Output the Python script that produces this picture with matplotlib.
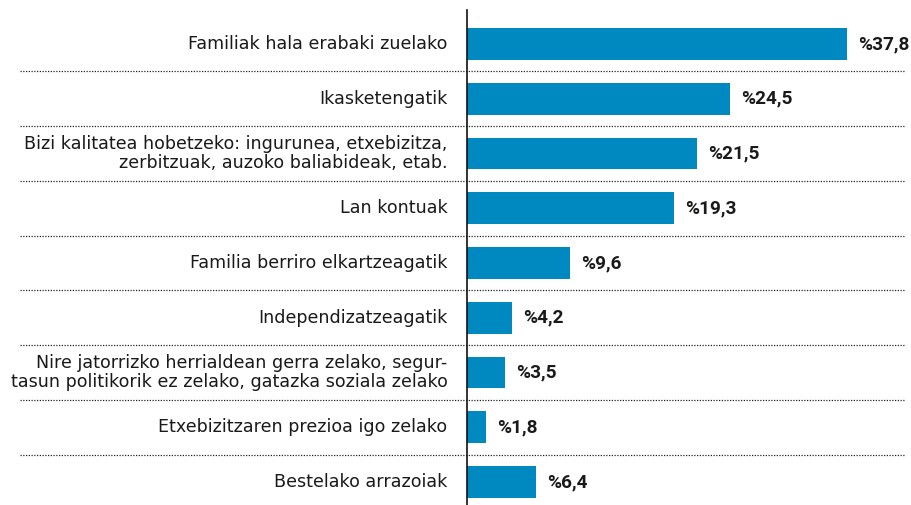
import matplotlib.pyplot as plt
import matplotlib.transforms as mtransforms
import numpy as np

plt.rcParams['font.family'] = ['DejaVu Sans']

categories = [
    "Familiak hala erabaki zuelako",
    "Ikasketengatik",
    "Bizi kalitatea hobetzeko: ingurunea, etxebizitza,\nzerbitzuak, auzoko baliabideak, etab.",
    "Lan kontuak",
    "Familia berriro elkartzeagatik",
    "Independizatzeagatik",
    "Nire jatorrizko herrialdean gerra zelako, segur-\ntasun politikorik ez zelako, gatazka soziala zelako",
    "Etxebizitzaren prezioa igo zelako",
    "Bestelako arrazoiak",
]
values = [37.8, 24.5, 21.5, 19.3, 9.6, 4.2, 3.5, 1.8, 6.4]
value_labels = ["%37,8", "%24,5", "%21,5", "%19,3", "%9,6", "%4,2", "%3,5", "%1,8", "%6,4"]

W, H = 912, 505
fig = plt.figure(figsize=(W / 100, H / 100), dpi=100)
ax_left, ax_right = 467, 847
ax = fig.add_axes([ax_left / W, 0, (ax_right - ax_left) / W, 1 - 10 / H])

# the longest bar is cut at the right edge of the plot area, as in the original
x_max = 35.45
y = np.arange(len(categories))
ax.barh(y, values, height=0.58, color='#0088c0')

for yi, v, lab in zip(y, values, value_labels):
    ax.annotate(lab, xy=(min(v, x_max), yi), xytext=(8, 0),
                textcoords='offset points', ha='left', va='center',
                fontsize=13.7, fontweight='bold', color='#1a1a1a',
                family=['Roboto', 'DejaVu Sans'], annotation_clip=False)

# category labels
for yi, cat in zip(y, categories):
    ax.annotate(cat, xy=(0, yi), xytext=(-14, 0), textcoords='offset points',
                ha='right', va='center', fontsize=12.6, color='#1a1a1a',
                linespacing=1.1, annotation_clip=False)

# dotted separators across the whole figure width
trans = mtransforms.blended_transform_factory(fig.transFigure, ax.transData)
for yi in y[:-1]:
    ax.plot([20 / W, 905 / W], [yi + 0.5, yi + 0.5], transform=trans,
            color='#222222', linestyle=(0, (1, 1.2)), linewidth=0.9,
            clip_on=False)

ax.set_xlim(0, x_max)
ax.set_ylim(8.42, -0.62)
for s in ['top', 'right', 'bottom']:
    ax.spines[s].set_visible(False)
ax.spines['left'].set_linewidth(1.2)
ax.spines['left'].set_color('#111111')
ax.set_xticks([])
ax.set_yticks([])
ax.patch.set_alpha(0)

fig.savefig('out.png', dpi=100)
